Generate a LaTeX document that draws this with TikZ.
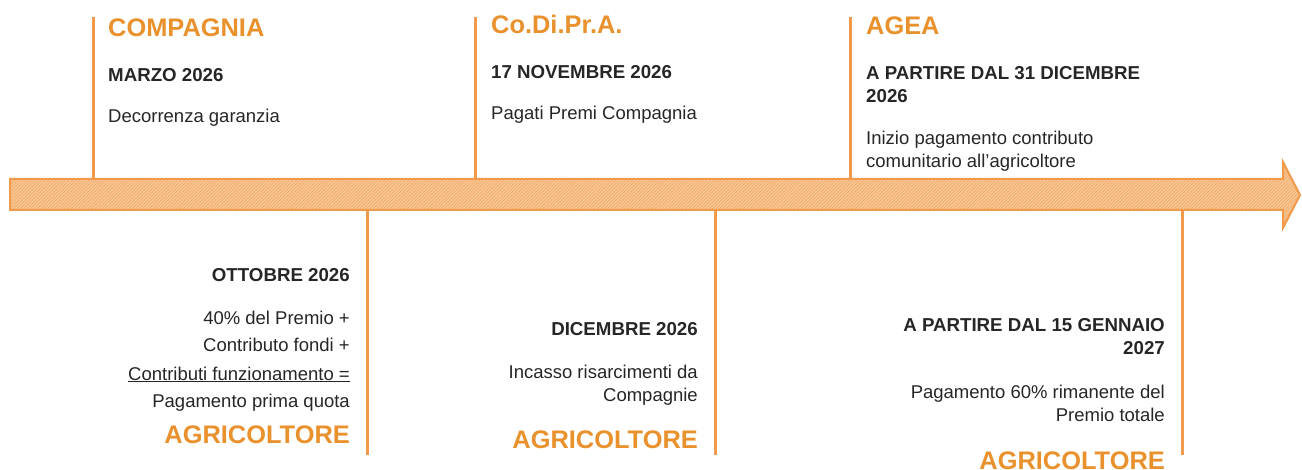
\documentclass[tikz,border=0pt]{standalone}
\usepackage{fontspec}
\setmainfont{Liberation Sans}
\usepackage{tikz}
\usetikzlibrary{positioning,patterns.meta}
\definecolor{ocra}{HTML}{E8912D}
\definecolor{tacca}{HTML}{F29A4B}
\definecolor{banda}{HTML}{F7C896}
\definecolor{testo}{HTML}{262626}

\tikzset{
  titolo/.style={font=\fontsize{25.4}{28}\selectfont\bfseries, text=ocra, inner sep=0pt},
  data/.style={font=\fontsize{18.7}{23}\selectfont\bfseries, text=testo, inner sep=0pt},
  nota/.style={font=\fontsize{18.5}{23}\selectfont, text=testo, inner sep=0pt},
}

\begin{document}
\begin{tikzpicture}[x=1pt, y=-1pt]
   \useasboundingbox (0,0) rectangle (1302,470);
   % freccia del tempo
   \draw[draw=tacca, line width=2pt, line join=miter, preaction={fill=banda},
         pattern={Lines[angle=45,distance=2.4pt,line width=0.7pt]}, pattern color=tacca!85]
     (10,179) -- (1283,179) -- (1283,162) -- (1300,195) -- (1283,228) -- (1283,210) -- (10,210) -- cycle;
   \coordinate (t1) at (93,17);   \coordinate (a1) at (93,178);
   \coordinate (t2) at (475,17);  \coordinate (a2) at (475,178);
   \coordinate (t3) at (850,17);  \coordinate (a3) at (850,178);
   \coordinate (b1) at (367,211); \coordinate (e1) at (367,455);
   \coordinate (b2) at (715,211); \coordinate (e2) at (715,455);
   \coordinate (b3) at (1182,211); \coordinate (e3) at (1182,455);
   \begin{scope}[every path/.style={draw=tacca, line width=3pt}]
    \draw (t1) -- (a1);
    \draw (t2) -- (a2);
    \draw (t3) -- (a3);
    \draw (b1) -- (e1);
    \draw (b2) -- (e2);
    \draw (b3) -- (e3);
   \end{scope}
   % sopra (base = ultima riga)
   \begin{scope}[every node/.append style={anchor=base west, align=left}]
    \node[titolo] (compagnia) at (108,37) {COMPAGNIA};
    \node[data] (marzo) at (108,82) {MARZO 2026};
    \node[nota] (decorrenza) at (108,123) {Decorrenza garanzia};
    \node[titolo] (codipra) at (491,34) {Co.Di.Pr.A.};
    \node[data] (novembre) at (491,79) {17 NOVEMBRE 2026};
    \node[nota] (pagati) at (491,120) {Pagati Premi Compagnia};
    \node[titolo] (agea) at (866,35) {AGEA};
    \node[data] (dal31) at (866,103) {A PARTIRE DAL 31 DICEMBRE\\2026};
    \node[nota] (inizio) at (866,168) {Inizio pagamento contributo\\comunitario all’agricoltore};
   \end{scope}
   % sotto
   \begin{scope}[every node/.append style={anchor=base east, align=right}]
    \node[data] (ottobre) at (350,282) {OTTOBRE 2026};
    \node[nota, font=\fontsize{18.5}{28}\selectfont] (quota) at (350,408)
      {40\% del Premio +\\Contributo fondi +\\\underline{Contributi funzionamento =}\\Pagamento prima quota};
    \node[titolo] (agri1) at (350,443) {AGRICOLTORE};
    \node[data] (dicembre) at (698,336) {DICEMBRE 2026};
    \node[nota] (incasso) at (698,402) {Incasso risarcimenti da\\Compagnie};
    \node[titolo] (agri2) at (698,448) {AGRICOLTORE};
    \node[data] (dal15) at (1165,355) {A PARTIRE DAL 15 GENNAIO\\2027};
    \node[nota] (saldo) at (1165,421) {Pagamento 60\% rimanente del\\Premio totale};
    \node[titolo] (agri3) at (1165,469) {AGRICOLTORE};
   \end{scope}
\end{tikzpicture}
\end{document}
